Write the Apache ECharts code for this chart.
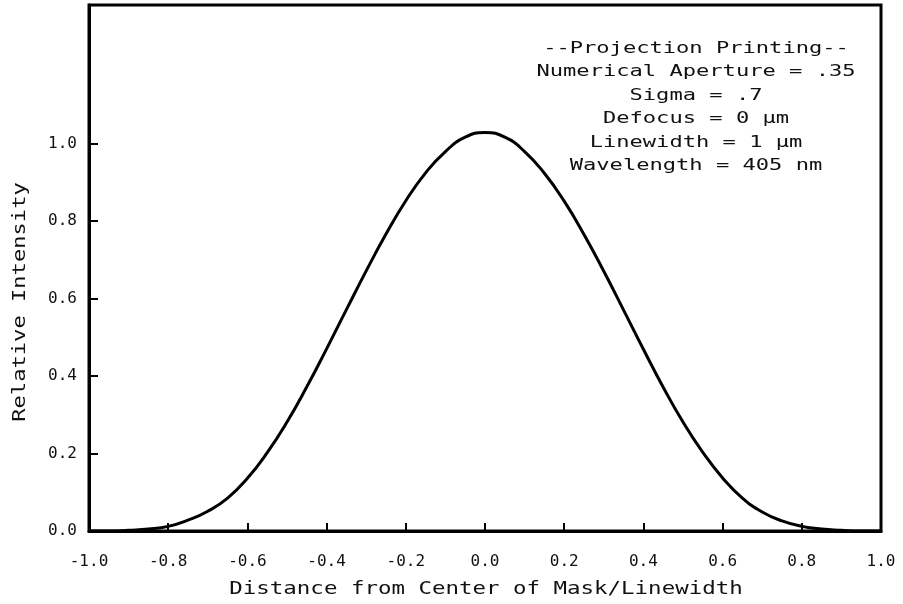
<!DOCTYPE html>
<html>
<head>
<meta charset="utf-8">
<script src="https://cdn.jsdelivr.net/npm/echarts@6/dist/echarts.min.js"></script>
<style>
  html, body { margin: 0; padding: 0; background: #fff; }
  #chart { width: 903px; height: 604px; }
</style>
</head>
<body>
<div id="chart"></div>
<script>
// aerial image intensity across the line
var distance = [-1.00, -0.95, -0.90, -0.85, -0.80, -0.75, -0.70, -0.65, -0.60, -0.55,
                -0.50, -0.45, -0.40, -0.35, -0.30, -0.25, -0.20, -0.15, -0.10, -0.05,
                 0.00,  0.05,  0.10,  0.15,  0.20,  0.25,  0.30,  0.35,  0.40,  0.45,
                 0.50,  0.55,  0.60,  0.65,  0.70,  0.75,  0.80,  0.85,  0.90,  0.95, 1.00];
var intensity = [0.000, 0.000, 0.002, 0.005, 0.012, 0.028, 0.051, 0.085, 0.136, 0.202,
                 0.281, 0.372, 0.470, 0.571, 0.671, 0.766, 0.852, 0.924, 0.979, 1.016,
                 1.028, 1.016, 0.979, 0.923, 0.851, 0.765, 0.670, 0.570, 0.469, 0.371,
                 0.281, 0.203, 0.137, 0.085, 0.049, 0.026, 0.012, 0.005, 0.002, 0.000, 0.000];
var yTicks = [0, 0.2, 0.4, 0.6, 0.8, 1.0];
var infoLines = [
    '--Projection Printing--',
    'Numerical Aperture = .35',
    'Sigma = .7',
    'Defocus = 0 \u03bcm',
    'Linewidth = 1 \u03bcm',
    'Wavelength = 405 nm'
];
var xTitle = 'Distance from Center of Mask/Linewidth';
var yTitle = 'Relative Intensity';

var mono = 'DejaVu Sans Mono';
var points = [];
for (var i = 0; i < distance.length; i++) {
    points.push([distance[i], intensity[i]]);
}

var chart = echarts.init(document.getElementById('chart'));
var option = {
    backgroundColor: '#fff',
    animation: false,
    grid: {
        left: 89,
        right: 22,
        top: 5,
        bottom: 73,
        show: true,
        borderColor: '#000',
        borderWidth: 3
    },
    xAxis: {
        type: 'value',
        min: -1,
        max: 1,
        interval: 0.2,
        axisLine: { onZero: false, lineStyle: { color: '#000', width: 3 } },
        axisTick: { inside: true, length: 8, lineStyle: { color: '#000', width: 2 } },
        axisLabel: {
            margin: 23,
            fontFamily: mono,
            fontSize: 16,
            color: '#111',
            formatter: function (v) { return v.toFixed(1); }
        },
        splitLine: { show: false }
    },
    yAxis: {
        type: 'value',
        min: 0,
        max: 1.357,
        axisLine: { onZero: false, lineStyle: { color: '#000', width: 3 } },
        axisTick: {
            inside: true, length: 9, customValues: yTicks,
            lineStyle: { color: '#000', width: 2 }
        },
        axisLabel: {
            margin: 12,
            fontFamily: mono,
            fontSize: 16,
            color: '#111',
            customValues: yTicks,
            formatter: function (v) { return v.toFixed(1); }
        },
        splitLine: { show: false }
    },
    graphic: [{
        type: 'text',
        x: 696,
        y: 37,
        scaleX: 1.38,
        style: {
            text: infoLines.join('\n'),
            align: 'center',
            fontFamily: mono,
            fontSize: 16,
            lineHeight: 23.5,
            fill: '#111'
        }
    }, {
        type: 'text',
        x: 486,
        y: 590,
        scaleX: 1.32,
        style: {
            text: xTitle,
            align: 'center',
            verticalAlign: 'middle',
            fontFamily: mono,
            fontSize: 17,
            fill: '#111'
        }
    }, {
        type: 'text',
        x: 21,
        y: 302,
        rotation: Math.PI / 2,
        scaleX: 1.3,
        style: {
            text: yTitle,
            align: 'center',
            verticalAlign: 'middle',
            fontFamily: mono,
            fontSize: 17,
            fill: '#111'
        }
    }],
    series: [{
        type: 'line',
        data: points,
        smooth: true,
        showSymbol: false,
        lineStyle: { color: '#000', width: 3 }
    }]
};
chart.setOption(option);
</script>
</body>
</html>
